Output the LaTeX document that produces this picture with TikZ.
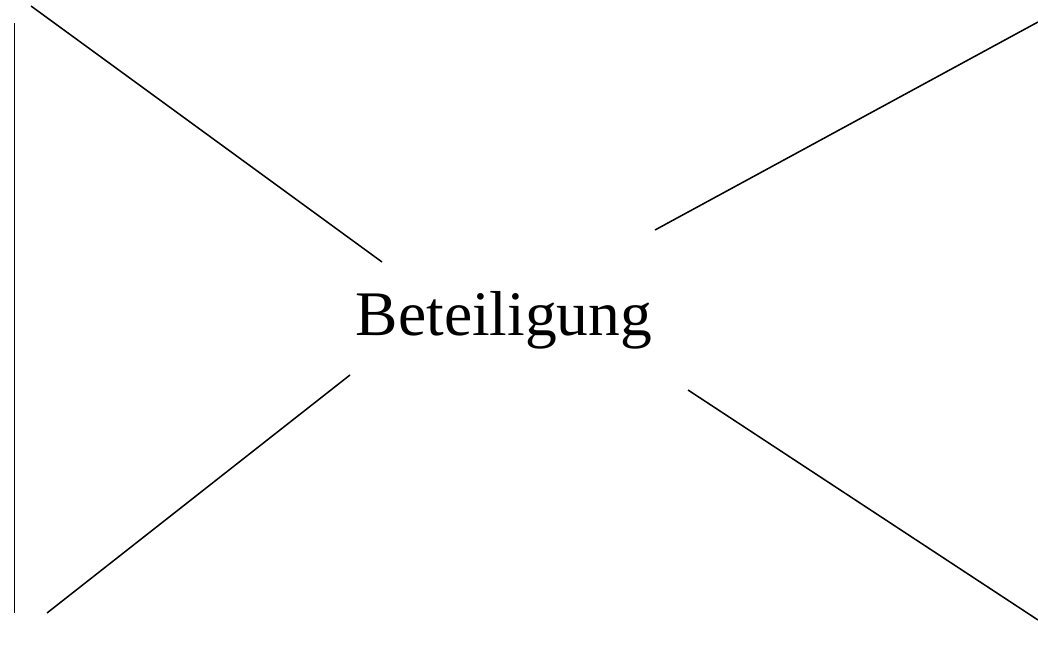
\documentclass[tikz,border=0pt]{standalone}
\usepackage{fontspec}
\setmainfont{Liberation Serif}
\begin{document}
\begin{tikzpicture}[x=1pt,y=1pt,line width=1.5pt,
  seg/.style={draw=black,line cap=butt}]
\useasboundingbox (0,0) rectangle (1038,645);
\node[anchor=base,inner sep=0pt,font=\fontsize{63.5}{70}\selectfont] (lbl) at (504,309) {Beteiligung};
\coordinate (tl1) at (31,639); \coordinate (tl2) at (382,383);
\coordinate (tr1) at (655,415); \coordinate (tr2) at (1038,623);
\coordinate (bl1) at (350,270); \coordinate (bl2) at (47,32);
\coordinate (br1) at (688,255); \coordinate (br2) at (1038,25);
\coordinate (v1) at (14.5,622); \coordinate (v2) at (14.5,32);
\draw[seg] (tl1) -- (tl2);
\draw[seg] (tr1) -- (tr2);
\draw[seg] (bl1) -- (bl2);
\draw[seg] (br1) -- (br2);
\draw[seg] (v1) -- (v2);
\end{tikzpicture}
\end{document}
